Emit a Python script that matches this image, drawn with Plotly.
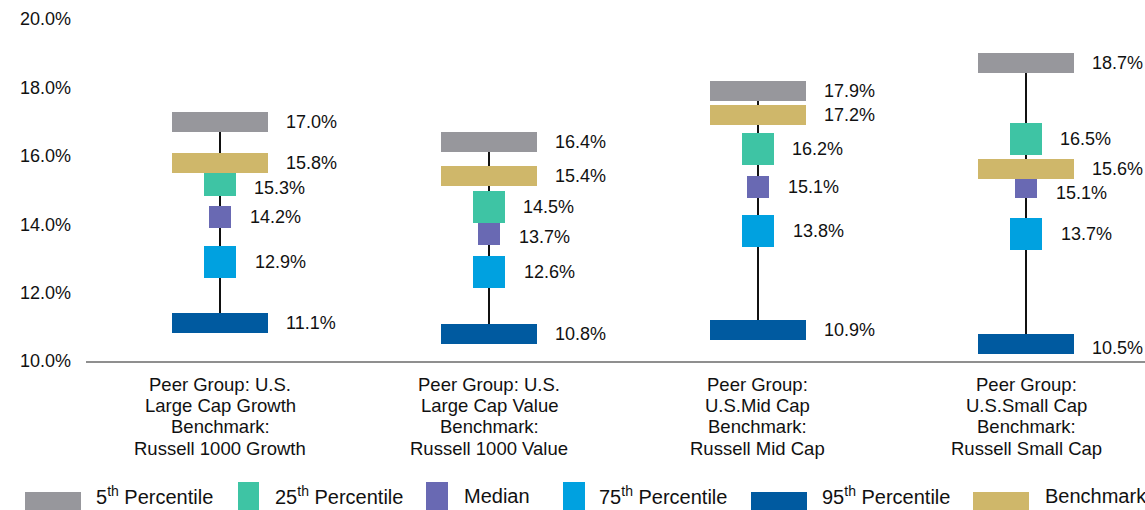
import plotly.graph_objects as go

# ---------------- data ----------------
categories = [
    "Peer Group: U.S.<br>Large Cap Growth<br>Benchmark:<br>Russell 1000 Growth",
    "Peer Group: U.S.<br>Large Cap Value<br>Benchmark:<br>Russell 1000 Value",
    "Peer Group:<br>U.S.Mid Cap<br>Benchmark:<br>Russell Mid Cap",
    "Peer Group:<br>U.S.Small Cap<br>Benchmark:<br>Russell Small Cap",
]
p5 = [17.0, 16.4, 17.9, 18.7]
p25 = [15.3, 14.5, 16.2, 16.5]
median = [14.2, 13.7, 15.1, 15.1]
p75 = [12.9, 12.6, 13.8, 13.7]
p95 = [11.1, 10.8, 10.9, 10.5]
benchmark = [15.8, 15.4, 17.2, 15.6]
y_ticks = [10, 12, 14, 16, 18, 20]
y_tick_labels = [f"{v:.1f}%" for v in y_ticks]

# ---------------- layout geometry ----------------
W, H = 1145, 510
ML, MR, MT, MB = 86, 0, 19, 510 - 361
plot_w = W - ML - MR
plot_h = H - MT - MB
X0, X1 = -0.5, 3.4415
Y0, Y1 = 10, 20
px_x = plot_w / (X1 - X0)   # px per category unit
px_y = plot_h / (Y1 - Y0)   # px per percent

xs = list(range(len(categories)))

C_GRAY = "#97979c"
C_TEAL = "#3ec4a4"
C_PURP = "#6969b3"
C_BLUE = "#00a1e0"
C_DARK = "#005aa0"
C_TAN = "#cfb76a"
TXT = "#111111"
FONT = "Liberation Sans, Arial, sans-serif"

fig = go.Figure()

def rect_trace(vals, color, wpx, hpx, name):
    h = hpx / px_y
    return go.Bar(
        x=xs, y=[h] * len(vals), base=[v - h / 2 for v in vals],
        width=wpx / px_x, marker=dict(color=color, line=dict(width=0)),
        name=name, showlegend=False, hoverinfo="skip",
    )

# whisker line (95th -> 5th)
lw = 2.2 / px_x
fig.add_trace(go.Bar(
    x=xs, y=[a - b for a, b in zip(p5, p95)], base=p95, width=lw,
    marker=dict(color="#111111", line=dict(width=0)), showlegend=False,
    hoverinfo="skip",
))
fig.add_trace(rect_trace(p75, C_BLUE, 32, 32, "75th"))
fig.add_trace(rect_trace(p95, C_DARK, 96, 20, "95th"))
fig.add_trace(rect_trace(median, C_PURP, 22, 22, "Median"))
fig.add_trace(rect_trace(p25, C_TEAL, 32, 32, "25th"))
fig.add_trace(rect_trace(p5, C_GRAY, 96, 20, "5th"))
fig.add_trace(rect_trace(benchmark, C_TAN, 96, 20, "Benchmark"))

annotations = []
# value labels
series_lab = [
    (p5, 64, "p5"), (benchmark, 64, "bm"), (p25, 32, "p25"),
    (median, 28, "med"), (p75, 33, "p75"), (p95, 64, "p95"),
]
label_nudge = {("p25", 0): -8, ("med", 3): -6, ("med", 1): -3, ("p95", 3): -4}
for vals, dx, key in series_lab:
    for i, v in enumerate(vals):
        annotations.append(dict(
            x=i, y=v, xref="x", yref="y", text=f"{v:.1f}%", showarrow=False,
            xanchor="left", yanchor="middle", xshift=dx,
            yshift=label_nudge.get((key, i), 0),
            font=dict(family=FONT, size=18, color=TXT),
        ))

def px2paper_x(px):
    return (px - ML) / plot_w

def py2paper_y(py):
    return (MT + plot_h - py) / plot_h

# category labels (one annotation per line for exact line spacing)
LINE_GAP = 21.2
for i, c in enumerate(categories):
    for k, line in enumerate(c.split("<br>")):
        annotations.append(dict(
            x=i, y=py2paper_y(384.5 + k * LINE_GAP), xref="x", yref="paper",
            text=line, showarrow=False, xanchor="center", yanchor="middle",
            font=dict(family=FONT, size=18.5, color=TXT),
        ))

# manual legend
shapes = []
legend_items = [
    (C_GRAY, 25, 81, 492, 512, 94, "5<sup>th</sup> Percentile"),
    (C_TEAL, 238, 259, 482, 512, 273, "25<sup>th</sup> Percentile"),
    (C_PURP, 426, 448, 482, 512, 462, "Median"),
    (C_BLUE, 563, 585, 482, 512, 597, "75<sup>th</sup> Percentile"),
    (C_DARK, 751, 807, 492, 512, 820, "95<sup>th</sup> Percentile"),
    (C_TAN, 973, 1029, 492, 512, 1043, "Benchmark"),
]
for col, x0, x1, y0, y1, tx, label in legend_items:
    shapes.append(dict(
        type="rect", xref="paper", yref="paper",
        x0=px2paper_x(x0), x1=px2paper_x(x1),
        y0=py2paper_y(y1), y1=py2paper_y(y0),
        fillcolor=col, line=dict(width=0), layer="above",
    ))
    annotations.append(dict(
        x=px2paper_x(tx), y=py2paper_y(495.5), xref="paper", yref="paper",
        text=label, showarrow=False, xanchor="left", yanchor="middle",
        font=dict(family=FONT, size=20, color=TXT),
    ))

fig.update_layout(
    width=W, height=H,
    margin=dict(l=ML, r=MR, t=MT, b=MB, pad=0),
    paper_bgcolor="white", plot_bgcolor="white",
    barmode="overlay", bargap=0,
    showlegend=False,
    xaxis=dict(
        range=[X0, X1], showticklabels=False, showgrid=False, zeroline=False,
        showline=True, linecolor="#8f8f8f", linewidth=2, ticks="",
        fixedrange=True,
    ),
    yaxis=dict(
        range=[Y0, Y1], tickvals=y_ticks, ticktext=y_tick_labels,
        showgrid=False, zeroline=False, showline=False, ticks="",
        ticklabelstandoff=14,
        tickfont=dict(family=FONT, size=18, color=TXT), fixedrange=True,
    ),
    annotations=annotations,
    shapes=shapes,
)

page_css = (
    "document.documentElement.style.margin='0';"
    "document.documentElement.style.overflow='hidden';"
    "document.body.style.margin='0';"
    "document.body.style.overflow='hidden';"
)
fig.write_html("out.html", post_script=page_css,
               config={"displayModeBar": False, "staticPlot": True})
